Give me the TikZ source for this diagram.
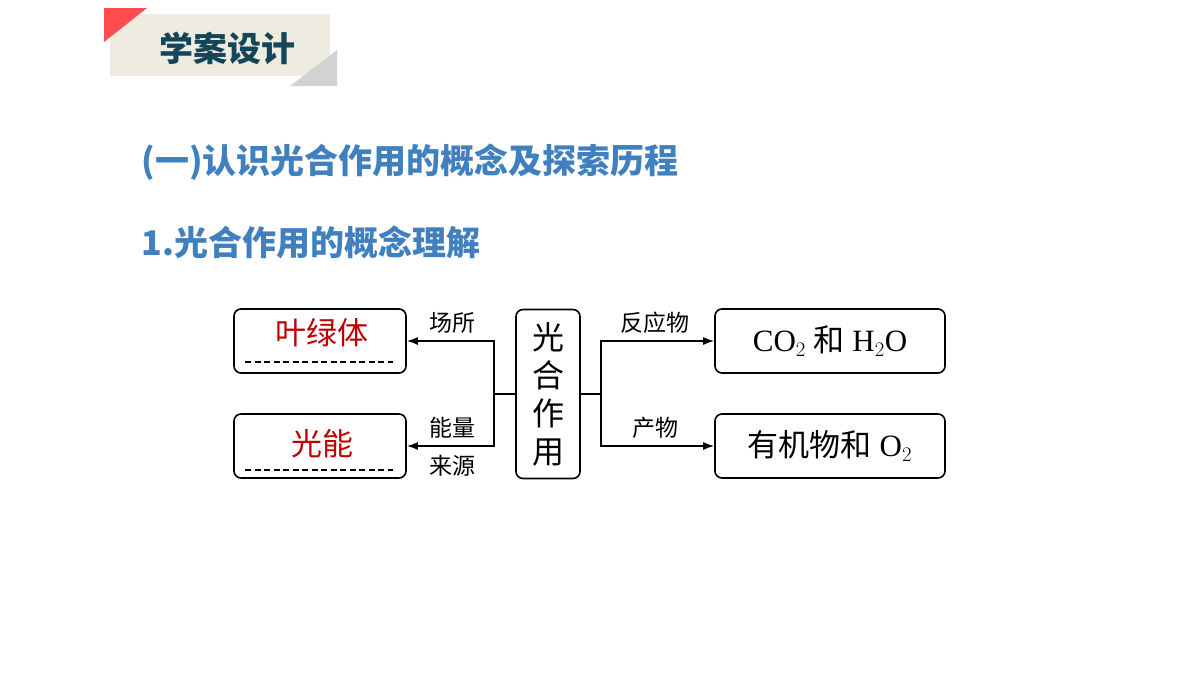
\documentclass[tikz,border=0pt]{standalone}
\usepackage{fontspec}
\setmainfont{Liberation Serif}
\newfontfamily\cjk{Noto Sans CJK SC}
\usetikzlibrary{positioning,arrows.meta}
\definecolor{titleblue}{RGB}{64,128,190}
\definecolor{headteal}{RGB}{20,70,90}
\definecolor{headbg}{RGB}{238,235,224}
\definecolor{boxred}{RGB}{190,0,0}
\tikzset{
  box/.style={draw, line width=1.6pt, rounded corners=7pt, inner sep=0pt},
  lab/.style={font=\cjk\fontsize{23}{23}\selectfont},
  arr/.style={line width=1.6pt, -{Latex[length=11pt,width=8pt]}}
}
\begin{document}
\begin{tikzpicture}[x=1pt,y=-1pt]
\useasboundingbox (0,0) rectangle (1200,675);
% header
\fill[headbg] (110,14) rectangle (330,76);
\fill[red!70] (104,8) -- (147,8) -- (104,42) -- cycle;
\fill[gray!35] (290,86) -- (337,86) -- (337,50) -- cycle;
\node[font=\bfseries\cjk\fontsize{34}{34}\selectfont, text=headteal] (head) at (227,48) {学案设计};
% titles
\node[anchor=west, font=\bfseries\cjk\fontsize{34}{34}\selectfont, text=titleblue] (t1) at (138,162) {(一)认识光合作用的概念及探索历程};
\node[anchor=west, font=\bfseries\cjk\fontsize{34}{34}\selectfont, text=titleblue] (t2) at (138,242) {1.光合作用的概念理解};
% boxes
\node[box, minimum width=172, minimum height=64] (site) at (320,341) {};
\node[box, minimum width=172, minimum height=64] (energy) at (320,446) {};
\node[box, minimum width=64, minimum height=169, align=center, font=\cjk\fontsize{32}{38}\selectfont] (ps) at (548,394) {光\\合\\作\\用};
\node[box, minimum width=230, minimum height=64, font=\fontsize{31}{31}\selectfont] (react) at (830,341) {CO$_2$ {\cjk 和} H$_2$O};
\node[box, minimum width=230, minimum height=64, font=\fontsize{31}{31}\selectfont] (prod) at (830,446) {{\cjk 有机物和} O$_2$};
\node[font=\cjk\fontsize{31}{31}\selectfont, text=boxred] (chl) at (322,333) {叶绿体};
\node[font=\cjk\fontsize{31}{31}\selectfont, text=boxred] (light) at (322,444) {光能};
\draw[line width=1.4pt, dash pattern=on 6pt off 3.5pt] (245,362) -- (393,362);
\draw[line width=1.4pt, dash pattern=on 6pt off 3.5pt] (245,470) -- (393,470);
% connectors
\coordinate (lj) at (494,394);
\coordinate (rj) at (601,394);
\draw[line width=1.6pt] (ps.west) -- (lj);
\draw[line width=1.6pt] (ps.east) -- (rj);
\draw[arr] (lj) |- (site.east);
\draw[arr] (lj) |- (energy.east);
\draw[arr] (rj) |- (react.west);
\draw[arr] (rj) |- (prod.west);
% labels
\node[lab] (l1) at (452,323) {场所};
\node[lab] (l2) at (452,428) {能量};
\node[lab] (l3) at (452,466) {来源};
\node[lab] (l4) at (655,323) {反应物};
\node[lab] (l5) at (655,428) {产物};
\end{tikzpicture}
\end{document}
